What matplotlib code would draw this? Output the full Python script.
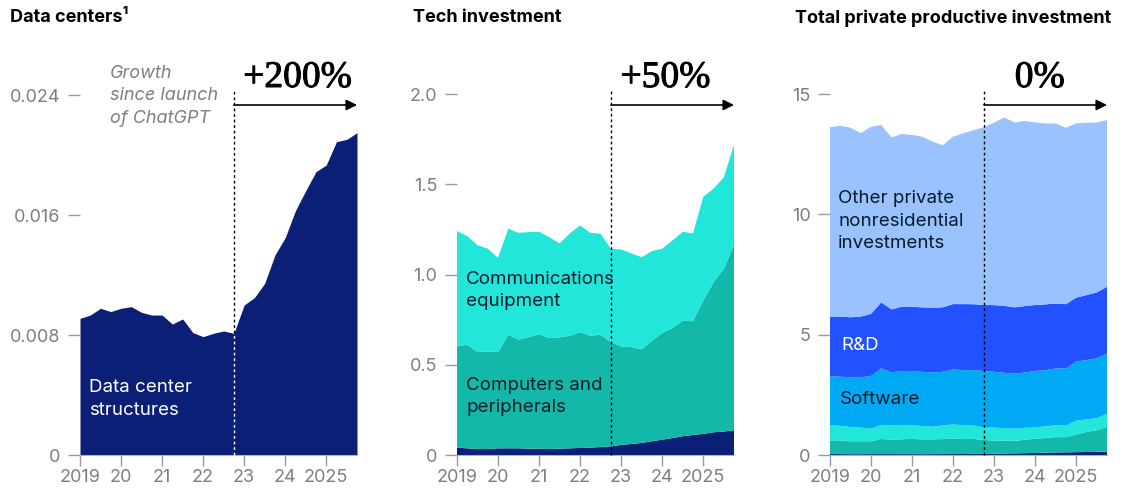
import numpy as np
import matplotlib
matplotlib.use("Agg")
import matplotlib.pyplot as plt
import matplotlib.patheffects as pe

plt.rcParams['font.family'] = ['Inter', 'DejaVu Sans']

# quarterly observations, 2019 Q1 .. 2025 Q4
quarters = np.arange(2019, 2026, 0.25)
launch = 2022.75
year_ticks = [2019, 2020, 2021, 2022, 2023, 2024, 2025]
year_labels = ["2019", "20", "21", "22", "23", "24", "2025"]

# data center structures
data_centers = [0.00911, 0.00933, 0.00978, 0.00956, 0.00978, 0.00989, 0.00951, 0.00933,
                0.00933, 0.00873, 0.00907, 0.00816, 0.00789, 0.00811, 0.00827, 0.00811,
                0.0100, 0.01049, 0.01144, 0.01333, 0.01449, 0.01629, 0.01762, 0.01889,
                0.01933, 0.02089, 0.02104, 0.02149]

# tech investment layers
dc_tech = [0.041, 0.037, 0.033, 0.033, 0.037, 0.037, 0.037, 0.035, 0.035, 0.033, 0.035, 0.037,
           0.039, 0.041, 0.044, 0.048, 0.056, 0.061, 0.067, 0.076, 0.085, 0.094, 0.104, 0.111,
           0.117, 0.126, 0.130, 0.137]
computers = [0.561, 0.574, 0.537, 0.541, 0.533, 0.630, 0.602, 0.619, 0.635, 0.615, 0.617, 0.624,
             0.642, 0.620, 0.623, 0.578, 0.546, 0.537, 0.520, 0.557, 0.591, 0.610, 0.640, 0.630,
             0.739, 0.831, 0.901, 1.030]
comms = [0.639, 0.602, 0.593, 0.569, 0.523, 0.587, 0.592, 0.581, 0.567, 0.559, 0.520, 0.567,
         0.591, 0.570, 0.559, 0.517, 0.537, 0.519, 0.509, 0.497, 0.467, 0.485, 0.493, 0.487,
         0.574, 0.519, 0.506, 0.552]

# remaining private productive investment layers
software = [2.04, 2.04, 2.07, 2.09, 2.19, 2.35, 2.20, 2.26, 2.25, 2.25, 2.26, 2.23, 2.29, 2.30,
            2.30, 2.35, 2.32, 2.30, 2.29, 2.30, 2.35, 2.34, 2.36, 2.37, 2.45, 2.47, 2.48, 2.50]
rnd = [2.47, 2.50, 2.49, 2.52, 2.58, 2.74, 2.62, 2.67, 2.67, 2.68, 2.69, 2.68, 2.71, 2.74,
       2.74, 2.74, 2.77, 2.78, 2.75, 2.76, 2.74, 2.73, 2.70, 2.67, 2.66, 2.70, 2.74, 2.77]
other = [7.87, 7.93, 7.88, 7.62, 7.78, 7.37, 7.14, 7.18, 7.14, 7.09, 6.90, 6.74, 6.96, 7.10,
         7.23, 7.39, 7.59, 7.83, 7.68, 7.69, 7.59, 7.52, 7.48, 7.33, 7.24, 7.16, 7.06, 6.93]

NAVY = '#0b1f77'
TEAL = '#14b8a8'
CYAN = '#22e6da'
SKY = '#00a9f4'
BLUE = '#2251ff'
PALE = '#99c2ff'
INK = '#051c2c'
GREY = '#7f7f7f'

W, H = 1128, 491
BASE = 455  # pixel row of the zero line
fig = plt.figure(figsize=(W / 100, H / 100), dpi=100)


def px_axes(left, right, top):
    return fig.add_axes([left / W, 1 - BASE / H, (right - left) / W, (BASE - top) / H])


def px_to_data(ax, row):
    # convert a pixel row into the axis' data units
    pos = ax.get_position()
    top = (1 - pos.y1) * H
    return (BASE - row) / (BASE - top) * ax.get_ylim()[1]


def style(ax, yticks, ylabels, ymax):
    ax.set_xlim(2019, 2025.75)
    ax.set_ylim(0, ymax)
    ax.set_xticks(year_ticks)
    ax.set_xticklabels(year_labels)
    ax.set_yticks(yticks)
    ax.set_yticklabels(ylabels)
    for s in ['top', 'right', 'left']:
        ax.spines[s].set_visible(False)
    ax.spines['bottom'].set_color('#aab0c8')
    ax.tick_params(axis='x', length=8, width=1, color='#9a9a9a', labelcolor=GREY,
                   labelsize=13, pad=2)
    ax.tick_params(axis='y', length=9, width=1, color='#9a9a9a', labelcolor=GREY,
                   labelsize=13, pad=5)
    ax.set_facecolor('none')


def growth_marker(ax, label, xc, area_top, low_col):
    line_top = px_to_data(ax, 89)
    # dotted launch line, in a contrast colour where it crosses dark fill
    ax.plot([launch, launch], [0, area_top], color=low_col, lw=1,
            ls=(0, (2, 2)), zorder=5, clip_on=False)
    ax.plot([launch, launch], [area_top, line_top], color='black', lw=1,
            ls=(0, (2, 2)), zorder=5, clip_on=False)
    y_arrow = 1 - 105 / H
    ax.annotate('', xy=(2025.75, y_arrow), xytext=(launch, y_arrow),
                xycoords=('data', 'figure fraction'), textcoords=('data', 'figure fraction'),
                arrowprops=dict(arrowstyle='-|>', color='black', lw=1.2, mutation_scale=16,
                                shrinkA=0, shrinkB=0),
                annotation_clip=False)
    t = ax.annotate(label, xy=(xc, 1 - 87 / H), xycoords=('data', 'figure fraction'),
                    ha='center', va='baseline', fontsize=27, family='Liberation Serif',
                    color='black', annotation_clip=False)
    t.set_path_effects([pe.withStroke(linewidth=0.7, foreground='black')])


def area_label(ax, x, row, text, col):
    ax.text(x, px_to_data(ax, row), text, color=col, fontsize=13.5,
            va='center', linespacing=1.4)


# panel 1: data centers
ax1 = px_axes(80, 357, 65)
ax1.fill_between(quarters, 0, data_centers, color=NAVY, lw=0)
style(ax1, [0, 0.008, 0.016, 0.024], ["0", "0.008", "0.016", "0.024"], 0.026)
growth_marker(ax1, '+200%', 2024.3, data_centers[15], 'white')
fig.text(10 / W, 1 - 18 / H, 'Data centers¹', fontsize=13, fontweight='bold',
         color='black', va='center')
fig.text(110 / W, 1 - 96 / H, 'Growth\nsince launch\nof ChatGPT', fontsize=13,
         style='italic', color=GREY, va='center', linespacing=1.4)
area_label(ax1, 2019.22, 399, 'Data center\nstructures', 'white')

# panel 2: tech investment
ax2 = px_axes(457, 734, 67)
ax2.stackplot(quarters, dc_tech, computers, comms, colors=[NAVY, TEAL, CYAN], lw=0)
style(ax2, [0, 0.5, 1.0, 1.5, 2.0], ["0", "0.5", "1.0", "1.5", "2.0"], 2.15)
growth_marker(ax2, '+50%', 2024.08, 0, 'black')
fig.text(413 / W, 1 - 18 / H, 'Tech investment', fontsize=13, fontweight='bold',
         color='black', va='center')
area_label(ax2, 2019.22, 290.5, 'Communications\nequipment', INK)
area_label(ax2, 2019.22, 396.5, 'Computers and\nperipherals', INK)

# panel 3: total private productive investment
ax3 = px_axes(830, 1107, 70)
ax3.stackplot(quarters, dc_tech, computers, comms, software, rnd, other,
              colors=[NAVY, TEAL, CYAN, SKY, BLUE, PALE], lw=0)
style(ax3, [0, 5, 10, 15], ["0", "5", "10", "15"], 16)
growth_marker(ax3, '0%', 2024.11, 0, 'black')
fig.text(795 / W, 1 - 18 / H, 'Total private productive investment', fontsize=13,
         fontweight='bold', color='black', va='center')
area_label(ax3, 2019.2, 221, 'Other private\nnonresidential\ninvestments', INK)
area_label(ax3, 2019.27, 346, 'R&D', 'white')
area_label(ax3, 2019.24, 400, 'Software', INK)

fig.savefig('out.png', dpi=100)
